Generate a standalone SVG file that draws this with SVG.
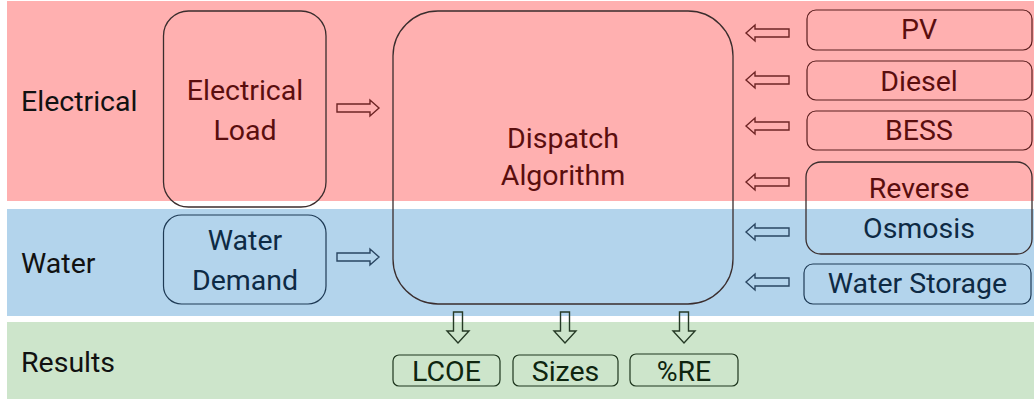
<svg xmlns="http://www.w3.org/2000/svg" width="1034" height="399" viewBox="0 0 1034 399">
  <style>
    text { font-family: Roboto, "Liberation Sans", sans-serif; font-size: 28.5px; }
    .lbl { fill: #111111; }
    .tr { fill: #5a0e0e; text-anchor: middle; }
    .tb { fill: #0e2a44; text-anchor: middle; }
    .tg { fill: #0f250f; text-anchor: middle; }
    .big { fill: none; stroke: #3a2d2d; stroke-width: 1.3; }
    .br { fill: none; stroke: #5a1e1e; stroke-width: 1.2; }
    .bb { fill: none; stroke: #1e3a55; stroke-width: 1.2; }
    .bg { fill: none; stroke: #1e361e; stroke-width: 1.2; }
    .ar { fill: none; stroke: #6e2424; stroke-width: 1.4; }
    .ab { fill: none; stroke: #2a4662; stroke-width: 1.4; }
    .ag { fill: none; stroke: #263a26; stroke-width: 1.4; }
  </style>
  <defs>
    <path id="arrR" d="M0,-4 H33 V-8 L42,0 L33,8 V4 H0 Z"/>
    <path id="arrL" d="M0,0 L9,-8 V-4 H43 V4 H9 V8 Z"/>
    <path id="arrD" d="M-4.5,0 H4.5 V19 H11 L0,31 L-11,19 H-4.5 Z"/>
  </defs>
  <rect width="1034" height="399" fill="#ffffff"/>
  <g id="bands">
    <rect x="7" y="1" width="1027" height="200" fill="#ffb0b0"/>
    <rect x="7" y="209" width="1027" height="107" fill="#b3d4ec"/>
    <rect x="7" y="322" width="1027" height="77" fill="#cde5cb"/>
    <text class="lbl" x="21" y="111">Electrical</text>
    <text class="lbl" x="21" y="273">Water</text>
    <text class="lbl" x="21" y="372">Results</text>
  </g>
  <g id="connectors">
    <use href="#arrR" class="ar" x="337" y="108"/>
    <use href="#arrR" class="ab" x="337" y="257"/>
    <use href="#arrL" class="ar" x="746" y="33"/>
    <use href="#arrL" class="ar" x="746" y="80"/>
    <use href="#arrL" class="ar" x="746" y="126"/>
    <use href="#arrL" class="ar" x="746" y="182"/>
    <use href="#arrL" class="ab" x="746" y="232"/>
    <use href="#arrL" class="ab" x="746" y="282"/>
    <use href="#arrD" class="ag" x="458" y="312"/>
    <use href="#arrD" class="ag" x="565" y="312"/>
    <use href="#arrD" class="ag" x="684" y="312"/>
  </g>
  <g id="electrical-load">
    <rect class="big" x="163.5" y="11" width="162.5" height="196" rx="25"/>
    <text class="tr" x="245" y="100">Electrical</text>
    <text class="tr" x="245" y="140">Load</text>
  </g>
  <g id="water-demand">
    <rect class="bb" x="163.5" y="215" width="162.5" height="89" rx="18"/>
    <text class="tb" x="245" y="250">Water</text>
    <text class="tb" x="245" y="290">Demand</text>
  </g>
  <g id="dispatch">
    <rect class="big" x="393" y="11" width="340" height="293" rx="45"/>
    <text class="tr" x="563" y="148">Dispatch</text>
    <text class="tr" x="563" y="185">Algorithm</text>
  </g>
  <g id="pv">
    <rect class="br" x="807" y="10" width="225" height="40" rx="9"/>
    <text class="tr" x="919" y="39">PV</text>
  </g>
  <g id="diesel">
    <rect class="br" x="807" y="61" width="225" height="39" rx="9"/>
    <text class="tr" x="919" y="91">Diesel</text>
  </g>
  <g id="bess">
    <rect class="br" x="807" y="111" width="225" height="39" rx="9"/>
    <text class="tr" x="919" y="140">BESS</text>
  </g>
  <g id="reverse-osmosis">
    <rect class="big" x="806" y="162" width="226" height="92" rx="15"/>
    <text class="tr" x="919" y="198">Reverse</text>
    <text class="tb" x="919" y="238">Osmosis</text>
  </g>
  <g id="water-storage">
    <rect class="bb" x="804" y="264" width="227" height="40" rx="9"/>
    <text class="tb" x="917.5" y="293">Water Storage</text>
  </g>
  <g id="lcoe">
    <rect class="bg" x="393" y="355" width="107" height="31" rx="6"/>
    <text class="tg" x="446.5" y="381">LCOE</text>
  </g>
  <g id="sizes">
    <rect class="bg" x="513" y="355" width="105" height="31" rx="6"/>
    <text class="tg" x="565.5" y="381">Sizes</text>
  </g>
  <g id="re">
    <rect class="bg" x="630" y="354" width="108" height="32" rx="6"/>
    <text class="tg" x="684" y="381">%RE</text>
  </g>
</svg>
